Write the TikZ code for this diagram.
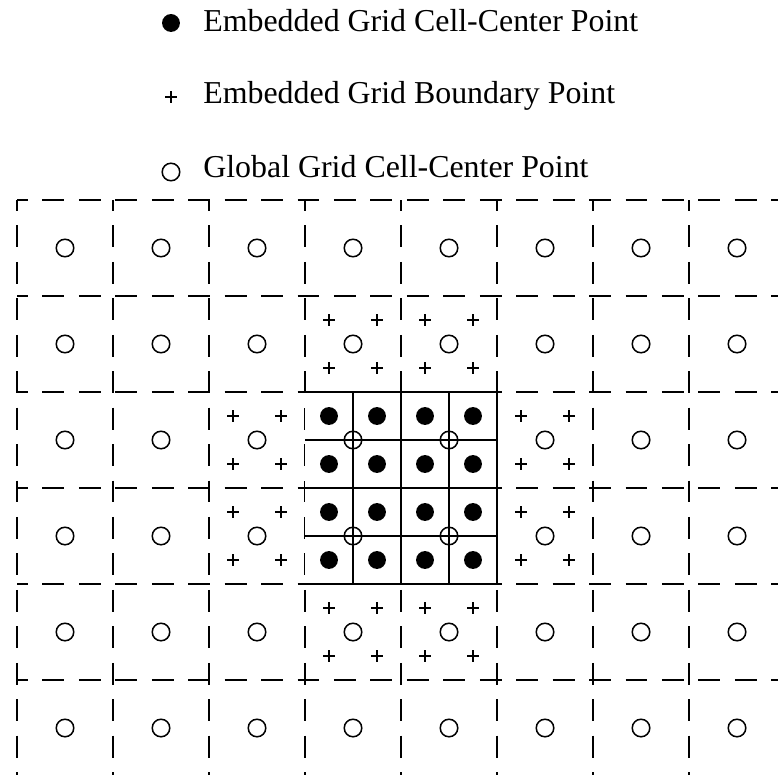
\documentclass[tikz,border=0pt]{standalone}
\usepackage{fontspec}
\setmainfont{Liberation Serif}
\begin{document}
\begin{tikzpicture}[x=2cm,y=2cm,every node/.style={font=\fontsize{18.9}{22}\selectfont,inner sep=0pt},globalline/.style={line width=1.15pt,dash pattern=on 13pt off 8.6pt,dash phase=6.5pt},finegrid/.style={line width=1.15pt},globalpt/.style={line width=.9pt},embpt/.style={fill=black},bdrypt/.style={line width=.8pt}]
\useasboundingbox (-.1771,-5.9792) rectangle (7.9271,2.0833);
\clip (-.1771,-5.9792) rectangle (7.9271,2.0833);
\fill[embpt] (1.604,1.844) circle (5.3pt);\node[anchor=base west] (lgemb) at (1.9375,1.75){Embedded Grid Cell-Center Point};
\draw[bdrypt] (1.604,1.073) +(-3.5pt,0)--+(3.5pt,0) +(0,-3.5pt)--+(0,3.5pt);\node[anchor=base west] (lgbdry) at (1.9375,1.0){Embedded Grid Boundary Point};
\draw[globalpt] (1.604,.2917) circle (5.2pt);\node[anchor=base west] (lgglob) at (1.9375,.2396){Global Grid Cell-Center Point};
\foreach \j in {0,...,6} \draw[globalline] (0,-\j)--(8.5,-\j);
\foreach \i in {0,...,8} \draw[globalline] (\i,0)--(\i,-6.5);
\fill[white] (3,-2) rectangle (5,-4);
\draw[finegrid] (3,-2) grid[step=.5] (5,-4);
\foreach \i in {0,...,3} \foreach \j in {0,...,3} \fill[embpt] (3.25+.5*\i,-2.25-.5*\j) circle (5.3pt);
\foreach \i in {0,...,7} \foreach \j in {0,...,5} \draw[globalpt] (\i+.5,-\j-.5) circle (5.2pt);
\foreach \c/\r in {3/1,4/1,3/4,4/4,2/2,2/3,5/2,5/3} \foreach \dx in {.25,.75} \foreach \dy in {.25,.75} \draw[bdrypt] (\c+\dx,-\r-\dy) +(-3.5pt,0)--+(3.5pt,0) +(0,-3.5pt)--+(0,3.5pt);
\end{tikzpicture}
\end{document}
